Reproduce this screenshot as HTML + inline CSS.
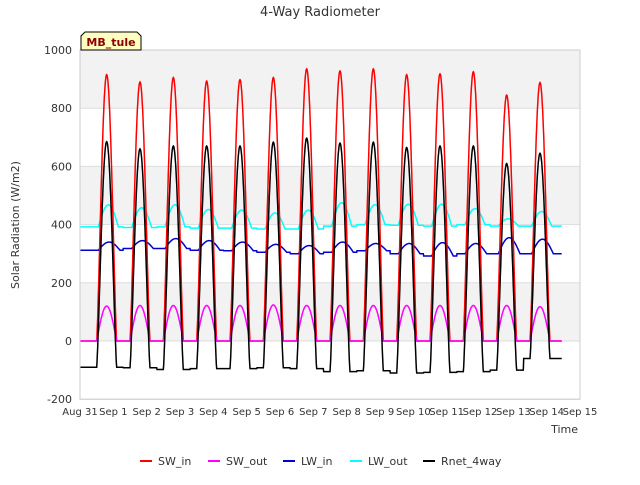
<!DOCTYPE html>
<html><head><meta charset="utf-8"><style>
body{margin:0;background:#fff;font-family:"Liberation Sans","DejaVu Sans",sans-serif}
svg text{font-family:"DejaVu Sans","Liberation Sans",sans-serif}
</style></head><body>
<svg id="c" width="640" height="480" viewBox="0 0 640 480">
<rect x="0" y="0" width="640" height="480" fill="#fff"/>
<text x="320" y="16" text-anchor="middle" font-size="13" fill="#333">4-Way Radiometer</text>
<g id="bands"></g><g id="grid"></g><g id="series"></g><g id="axes"></g>
<text x="19" y="225" font-size="11" fill="#333" text-anchor="middle" transform="rotate(-90 19 225)">Solar Radiation (W/m2)</text>
<text x="578" y="433" font-size="11" fill="#333" text-anchor="end">Time</text>
<g>
<path d="M81,50 L81,36 L85,32 L137,32 L141,36 L141,50 Z" fill="#ffffc0" stroke="#000" stroke-width="1"/>
<text x="111" y="46" text-anchor="middle" font-size="11" font-weight="bold" fill="#8b0000">MB_tule</text>
</g>
<g id="legend"></g>
</svg>
<script>
const dayLabels=["Aug 31","Sep 1","Sep 2","Sep 3","Sep 4","Sep 5","Sep 6","Sep 7","Sep 8","Sep 9","Sep 10","Sep 11","Sep 12","Sep 13","Sep 14","Sep 15"];
const yTicks=[-200,0,200,400,600,800,1000];
const swInPeak=[915,890,905,893,898,905,935,928,935,915,918,925,845,888];
const swOutPeak=[120,122,122,122,122,124,122,122,122,122,122,122,122,118];
const lwInBase=[312,318,318,312,310,305,300,305,310,300,292,300,300,300];
const lwInPeak=[340,345,352,345,340,332,328,340,335,335,338,335,355,350];
const lwOutBase=[392,390,392,388,388,385,385,395,400,398,395,400,395,395];
const lwOutPeak=[468,458,468,452,450,440,450,475,468,470,470,455,420,445];
const rnetPeak=[685,660,670,670,670,683,697,680,683,665,670,670,610,645];
const rnetNight=[-90,-92,-98,-95,-95,-92,-95,-105,-102,-110,-108,-105,-100,-60];
const X0=80,X1=580,Y0=341,PY=291/1000;
const xs=d=>X0+(X1-X0)*d/15, ys=v=>Y0-v*PY;
const NS="http://www.w3.org/2000/svg";
function mk(t,a,p){const e=document.createElementNS(NS,t);for(const k in a)e.setAttribute(k,a[k]);p.appendChild(e);return e;}
const bands=document.getElementById('bands'),grid=document.getElementById('grid'),axes=document.getElementById('axes'),ser=document.getElementById('series');
[[800,1000],[400,600],[0,200]].forEach(b=>{const r=mk('rect',{x:X0,y:ys(b[1]),width:X1-X0,height:ys(b[0])-ys(b[1]),fill:'#f2f2f2'},bands);

});
yTicks.forEach(v=>{const l=mk('line',{x1:X0,x2:X1,y1:ys(v),y2:ys(v),stroke:'#ddd'},grid);


const t=mk('text',{x:X0-8,y:ys(v)+4,'text-anchor':'end','font-size':11,fill:'#333'},axes);t.textContent=v;

});
mk('rect',{x:X0,y:ys(1000),width:X1-X0,height:ys(-200)-ys(1000),fill:'none',stroke:'#ccc'},axes);
dayLabels.forEach((s,i)=>{const t=mk('text',{x:xs(i),y:415,'text-anchor':'middle','font-size':10,fill:'#333'},axes);t.textContent=s;

});
function sun(f){const a=0.5,b=1.1;if(f<a||f>b)return 0;const s=Math.sin(Math.PI*(f-a)/(b-a));return Math.pow(s,1.3);}
function idx(t){return Math.max(0,Math.min(13,Math.round(t-0.8)));}
function build(fn){const pts=[];for(let t=0;t<=14.45;t+=0.01){const i=idx(t);const f=t-i;pts.push(xs(t).toFixed(1)+','+ys(fn(i,f,t)).toFixed(1));}return pts.join(' ');}
const series=[
 ['LW_out','#00ffff',(i,f)=>lwOutBase[i]+(lwOutPeak[i]-lwOutBase[i])*Math.max(0,Math.sin(Math.PI*(f-0.55)/0.6))],
 ['LW_in','#0000cc',(i,f)=>lwInBase[i]+(lwInPeak[i]-lwInBase[i])*Math.max(0,Math.sin(Math.PI*(f-0.55)/0.65))],
 ['SW_in','#ff0000',(i,f)=>swInPeak[i]*sun(f)],
 ['SW_out','#ff00ff',(i,f)=>swOutPeak[i]*Math.pow(sun(f),0.8)],
 ['Rnet_4way','#000000',(i,f)=>{const s=sun(f);return rnetNight[i]+(rnetPeak[i]-rnetNight[i])*s;}]
];
series.forEach(s=>{const p=mk('polyline',{points:build(s[2]),fill:'none',stroke:s[1],'stroke-width':1.5},ser);

});
const lg=document.getElementById('legend');
const order=[['SW_in','#ff0000',140],['SW_out','#ff00ff',208],['LW_in','#0000cc',283],['LW_out','#00ffff',350],['Rnet_4way','#000000',423]];
order.forEach(o=>{const g=mk('g',{},lg);


mk('line',{x1:o[2],x2:o[2]+12,y1:461,y2:461,stroke:o[1],'stroke-width':2},g);
const t=mk('text',{x:o[2]+18,y:465,'font-size':11,fill:'#333'},g);t.textContent=o[0];});
</script>
</body></html>
